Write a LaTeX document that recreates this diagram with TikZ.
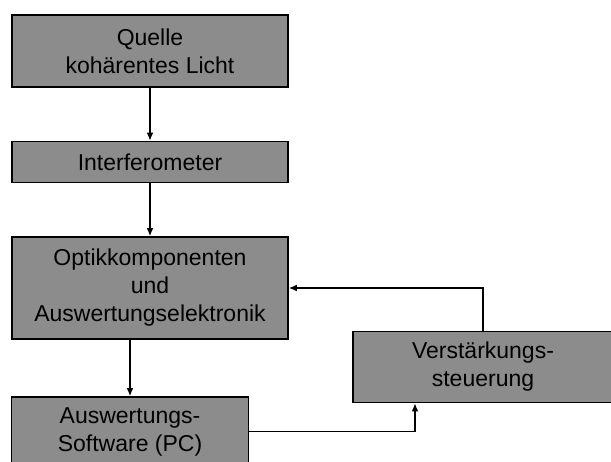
\documentclass[tikz,border=0pt]{standalone}
\usepackage{fontspec}
\setmainfont{Liberation Sans}
\usetikzlibrary{arrows.meta, calc}
\definecolor{rasterfill}{gray}{0.55}

\begin{document}
\begin{tikzpicture}[
    x=0.5pt, y=-0.5pt,
    font=\fontsize{11.5}{14}\selectfont,
    block/.style={draw, line width=0.8pt, fill=rasterfill, align=center,
                  inner sep=0pt, text=black},
    pfeil/.style={-{Latex[length=4pt, width=3.4pt]}, line width=0.7pt}
  ]
    \useasboundingbox (0,0) rectangle (611,461);
    \clip (0,0) rectangle (611,461);
    \node[block, minimum width=138pt, minimum height=36pt] (quelle) at (150,51) {Quelle\\kohärentes Licht};
    \node[block, minimum width=138pt, minimum height=20.5pt] (interf) at (150,162) {Interferometer};
    \node[block, minimum width=138pt, minimum height=51pt] (optik) at (150,288) {Optikkomponenten\\und\\Auswertungselektronik};
    \node[block, minimum width=118.5pt, minimum height=34.5pt] (software) at (130,431.5) {Auswertungs-\\Software (PC)};
    \node[block, minimum width=130pt, minimum height=35.5pt] (verst) at (483,367) {Verstärkungs-\\steuerung};
    \coordinate (vin) at ($(verst.south west)!0.24!(verst.south east)$);
    \draw[pfeil] (quelle.south) -- (interf.north);
    \draw[pfeil] (interf.south) -- (optik.north);
    \draw[pfeil] (software.north |- optik.south) -- (software.north);
    \draw[pfeil] (software.east) -| (vin);
    \draw[pfeil] (verst.north) |- (optik.east);
  \end{tikzpicture}
\end{document}
